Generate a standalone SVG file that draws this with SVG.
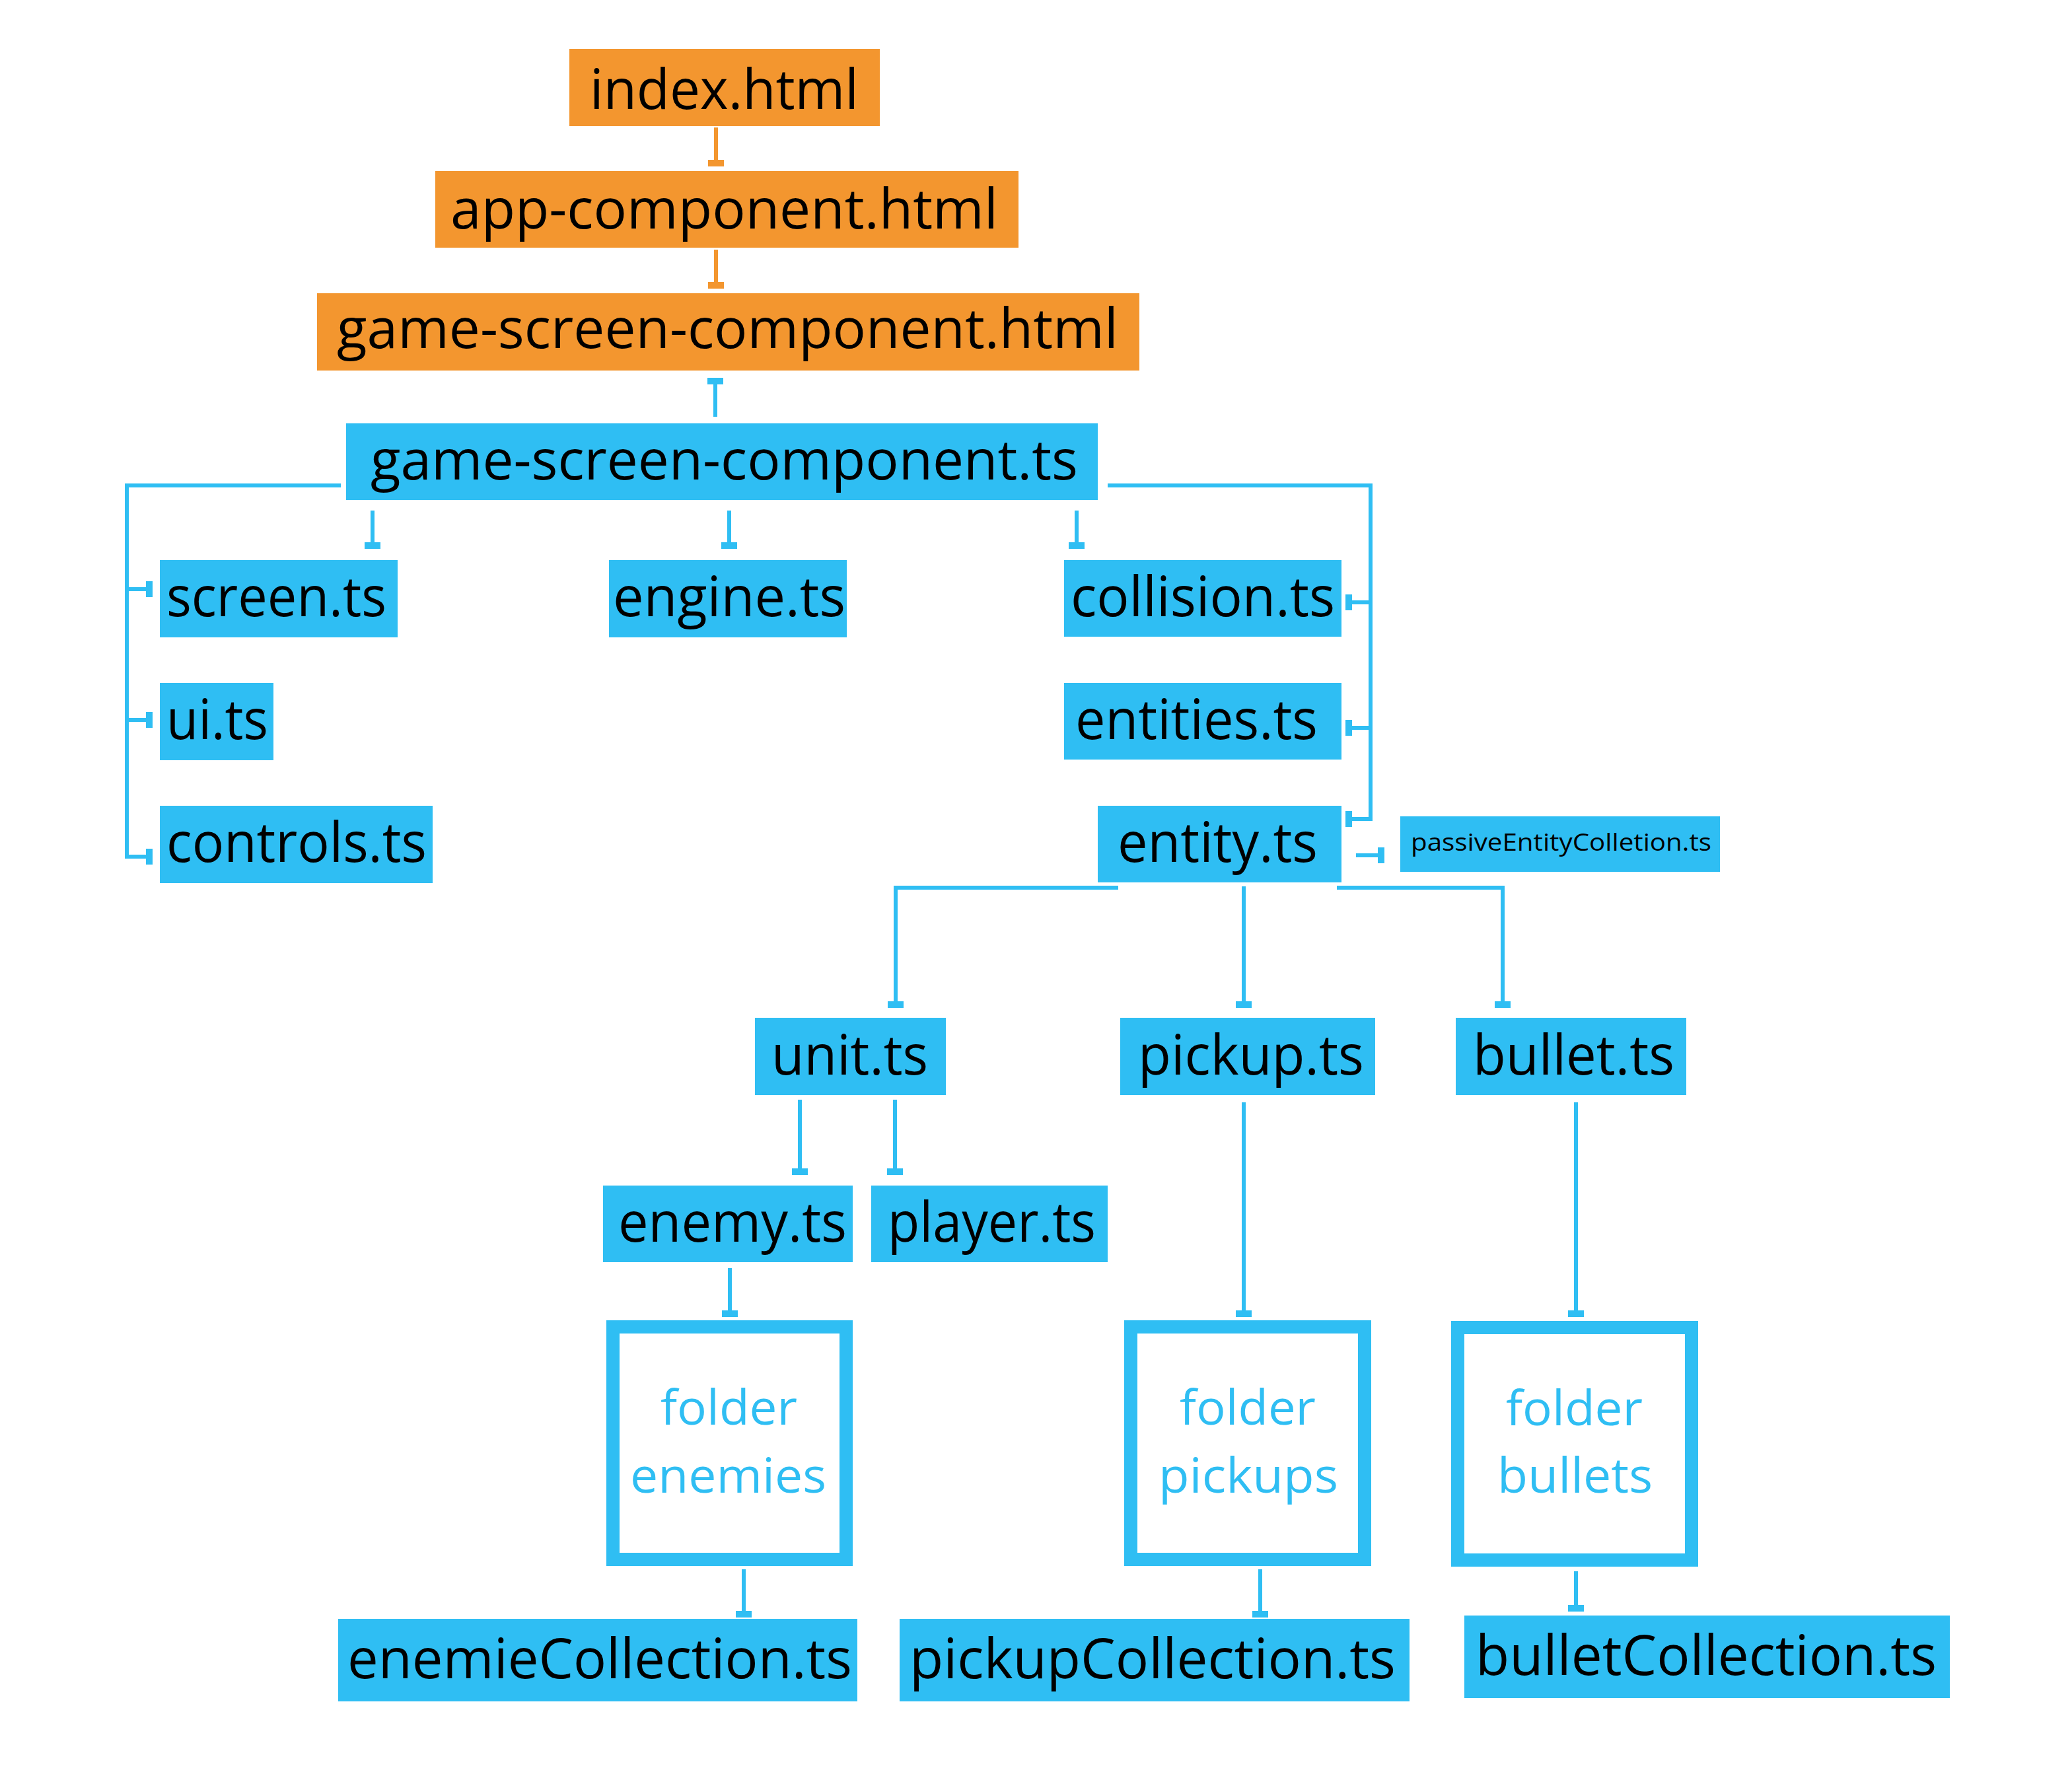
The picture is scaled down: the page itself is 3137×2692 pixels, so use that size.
<svg xmlns="http://www.w3.org/2000/svg" width="3137" height="2692" viewBox="0 0 3137 2692">
<style>
.o{fill:#F3962F}
.b{fill:#2FBEF3}
.f{fill:#FFFFFF;stroke:#2FBEF3;stroke-width:20}
.t{font-family:"Open Sans","Noto Sans",sans-serif;font-size:84px;fill:#000000}
.ts{font-family:"Open Sans","Noto Sans",sans-serif;font-size:36px;fill:#000000}
.ft{font-family:"Open Sans","Noto Sans",sans-serif;font-size:74px;fill:#2FBEF3}
.cb{fill:none;stroke:#2FBEF3;stroke-width:6}
.co{fill:none;stroke:#F3962F;stroke-width:6}
</style>
<defs>
<marker id="teeB" markerUnits="userSpaceOnUse" markerWidth="12" markerHeight="26" viewBox="-11 -13 12 26" refX="0" refY="0" orient="auto"><rect x="-10" y="-12" width="10" height="24" fill="#2FBEF3"/></marker>
<marker id="teeO" markerUnits="userSpaceOnUse" markerWidth="12" markerHeight="26" viewBox="-11 -13 12 26" refX="0" refY="0" orient="auto"><rect x="-10" y="-12" width="10" height="24" fill="#F3962F"/></marker>
</defs>
<rect width="3137" height="2692" fill="#FFFFFF"/>
<g id="connectors">
<path class="co" d="M1084 193 V252" marker-end="url(#teeO)"/>
<path class="co" d="M1084 378 V437" marker-end="url(#teeO)"/>
<path class="cb" d="M1083 631 V572" marker-end="url(#teeB)"/>
<path class="cb" d="M516 735 H192 V1297 H231" marker-end="url(#teeB)"/>
<path class="cb" d="M192 892 H231" marker-end="url(#teeB)"/>
<path class="cb" d="M192 1090 H231" marker-end="url(#teeB)"/>
<path class="cb" d="M564 773 V831" marker-end="url(#teeB)"/>
<path class="cb" d="M1104 773 V831" marker-end="url(#teeB)"/>
<path class="cb" d="M1630 773 V831" marker-end="url(#teeB)"/>
<path class="cb" d="M1677 735 H2075 V1240 H2037" marker-end="url(#teeB)"/>
<path class="cb" d="M2075 912 H2037" marker-end="url(#teeB)"/>
<path class="cb" d="M2075 1102 H2037" marker-end="url(#teeB)"/>
<path class="cb" d="M2053 1295 H2096" marker-end="url(#teeB)"/>
<path class="cb" d="M1693 1344 H1356 V1526" marker-end="url(#teeB)"/>
<path class="cb" d="M1883 1342 V1526" marker-end="url(#teeB)"/>
<path class="cb" d="M2024 1344 H2275 V1526" marker-end="url(#teeB)"/>
<path class="cb" d="M1211 1665 V1779" marker-end="url(#teeB)"/>
<path class="cb" d="M1355 1665 V1779" marker-end="url(#teeB)"/>
<path class="cb" d="M1105 1920 V1994" marker-end="url(#teeB)"/>
<path class="cb" d="M1883 1669 V1994" marker-end="url(#teeB)"/>
<path class="cb" d="M2386 1669 V1994" marker-end="url(#teeB)"/>
<path class="cb" d="M1126 2376 V2449" marker-end="url(#teeB)"/>
<path class="cb" d="M1908 2376 V2449" marker-end="url(#teeB)"/>
<path class="cb" d="M2386 2379 V2440" marker-end="url(#teeB)"/>
</g>
<g id="index-html"><rect class="o" x="862" y="74" width="470" height="117"/><text class="t" x="893" y="165" textLength="407" lengthAdjust="spacingAndGlyphs">index.html</text></g>
<g id="app-component-html"><rect class="o" x="659" y="259" width="883" height="116"/><text class="t" x="682" y="346" textLength="829" lengthAdjust="spacingAndGlyphs">app-component.html</text></g>
<g id="game-screen-component-html"><rect class="o" x="480" y="444" width="1245" height="117"/><text class="t" x="510" y="527" textLength="1183" lengthAdjust="spacingAndGlyphs">game-screen-component.html</text></g>
<g id="game-screen-component-ts"><rect class="b" x="524" y="641" width="1138" height="116"/><text class="t" x="561" y="726" textLength="1071" lengthAdjust="spacingAndGlyphs">game-screen-component.ts</text></g>
<g id="screen-ts"><rect class="b" x="242" y="848" width="360" height="117"/><text class="t" x="252" y="933" textLength="333" lengthAdjust="spacingAndGlyphs">screen.ts</text></g>
<g id="engine-ts"><rect class="b" x="922" y="848" width="360" height="117"/><text class="t" x="928" y="933" textLength="352" lengthAdjust="spacingAndGlyphs">engine.ts</text></g>
<g id="collision-ts"><rect class="b" x="1611" y="848" width="420" height="116"/><text class="t" x="1621" y="933" textLength="400" lengthAdjust="spacingAndGlyphs">collision.ts</text></g>
<g id="ui-ts"><rect class="b" x="242" y="1034" width="172" height="117"/><text class="t" x="252" y="1119" textLength="154" lengthAdjust="spacingAndGlyphs">ui.ts</text></g>
<g id="entities-ts"><rect class="b" x="1611" y="1034" width="420" height="116"/><text class="t" x="1628" y="1119" textLength="367" lengthAdjust="spacingAndGlyphs">entities.ts</text></g>
<g id="controls-ts"><rect class="b" x="242" y="1220" width="413" height="117"/><text class="t" x="252" y="1305" textLength="394" lengthAdjust="spacingAndGlyphs">controls.ts</text></g>
<g id="entity-ts"><rect class="b" x="1662" y="1220" width="369" height="116"/><text class="t" x="1692" y="1305" textLength="303" lengthAdjust="spacingAndGlyphs">entity.ts</text></g>
<g id="passiveEntityColletion-ts"><rect class="b" x="2120" y="1236" width="484" height="84"/><text class="ts" x="2136" y="1288" textLength="455" lengthAdjust="spacingAndGlyphs">passiveEntityColletion.ts</text></g>
<g id="unit-ts"><rect class="b" x="1143" y="1541" width="289" height="117"/><text class="t" x="1168" y="1627" textLength="237" lengthAdjust="spacingAndGlyphs">unit.ts</text></g>
<g id="pickup-ts"><rect class="b" x="1696" y="1541" width="386" height="117"/><text class="t" x="1723" y="1627" textLength="342" lengthAdjust="spacingAndGlyphs">pickup.ts</text></g>
<g id="bullet-ts"><rect class="b" x="2204" y="1541" width="349" height="117"/><text class="t" x="2230" y="1627" textLength="305" lengthAdjust="spacingAndGlyphs">bullet.ts</text></g>
<g id="enemy-ts"><rect class="b" x="913" y="1795" width="378" height="116"/><text class="t" x="936" y="1880" textLength="346" lengthAdjust="spacingAndGlyphs">enemy.ts</text></g>
<g id="player-ts"><rect class="b" x="1319" y="1795" width="358" height="116"/><text class="t" x="1344" y="1880" textLength="315" lengthAdjust="spacingAndGlyphs">player.ts</text></g>
<g id="folder-enemies"><rect class="f" x="928" y="2009" width="353" height="352"/><text class="ft" x="1000" y="2157" textLength="207" lengthAdjust="spacingAndGlyphs">folder</text><text class="ft" x="954" y="2260" textLength="297" lengthAdjust="spacingAndGlyphs">enemies</text></g>
<g id="folder-pickups"><rect class="f" x="1712" y="2009" width="354" height="352"/><text class="ft" x="1786" y="2157" textLength="206" lengthAdjust="spacingAndGlyphs">folder</text><text class="ft" x="1754" y="2260" textLength="272" lengthAdjust="spacingAndGlyphs">pickups</text></g>
<g id="folder-bullets"><rect class="f" x="2207" y="2010" width="354" height="352"/><text class="ft" x="2280" y="2158" textLength="207" lengthAdjust="spacingAndGlyphs">folder</text><text class="ft" x="2267" y="2260" textLength="235" lengthAdjust="spacingAndGlyphs">bullets</text></g>
<g id="enemieCollection-ts"><rect class="b" x="512" y="2451" width="786" height="125"/><text class="t" x="526" y="2541" textLength="764" lengthAdjust="spacingAndGlyphs">enemieCollection.ts</text></g>
<g id="pickupCollection-ts"><rect class="b" x="1362" y="2451" width="772" height="125"/><text class="t" x="1377" y="2541" textLength="736" lengthAdjust="spacingAndGlyphs">pickupCollection.ts</text></g>
<g id="bulletCollection-ts"><rect class="b" x="2217" y="2446" width="735" height="125"/><text class="t" x="2234" y="2536" textLength="698" lengthAdjust="spacingAndGlyphs">bulletCollection.ts</text></g>
</svg>
